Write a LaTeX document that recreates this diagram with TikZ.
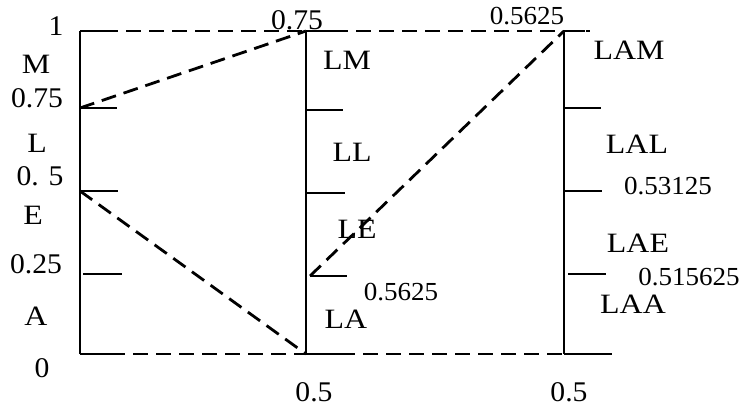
\documentclass[tikz,border=0pt]{standalone}
\usepackage{fontspec}
\setmainfont{Liberation Serif}
\newfontfamily\widefont[FakeStretch=1.14]{Liberation Serif}
\newfontfamily\numfont[FakeStretch=1.04]{Liberation Serif}
\begin{document}
\begin{tikzpicture}[x=1pt,y=-1pt,
  axisline/.style={line width=2.7pt},
  tickline/.style={line width=2.5pt},
  dashline/.style={line width=2.8pt,dash pattern=on 15pt off 8pt},
  big/.style={font=\widefont\fontsize{28}{28}\selectfont,inner sep=0pt,anchor=center},
  num/.style={font=\numfont\fontsize{26}{26}\selectfont,inner sep=0pt,anchor=center},
  numL/.style={font=\numfont\fontsize{28.5}{28.5}\selectfont,inner sep=0pt,anchor=center}]
\useasboundingbox (0,0) rectangle (742,409);
% left axis
\coordinate (L0) at (80,354);
\coordinate (L1) at (80,31);
\coordinate (L75) at (80,108);
\coordinate (L50) at (80,191);
\coordinate (L25) at (83,274);
% middle axis
\coordinate (M0) at (306,354);
\coordinate (M1) at (306,31);
\coordinate (M75) at (306,110);
\coordinate (M50) at (306,193);
\coordinate (M25) at (310,276);
% right axis
\coordinate (R0) at (564,354);
\coordinate (R1) at (564,31);
\coordinate (R75) at (564,108);
\coordinate (R50) at (564,191);
\coordinate (R25) at (568,274);

\draw[axisline] (L0) -- (L1);
\draw[axisline] (M0) -- (M1);
\draw[axisline] (R0) -- (R1);

% ticks
\draw[tickline] (L1) -- ++(37,0);
\draw[tickline] (L75) -- ++(37,0);
\draw[tickline] (L50) -- ++(38,0);
\draw[tickline] (L25) -- ++(39,0);
\draw[tickline] (L0) -- ++(30,0);
\draw[tickline] (M1) -- ++(37,0);
\draw[tickline] (M75) -- ++(37,0);
\draw[tickline] (M50) -- ++(39,0);
\draw[tickline] (M25) -- ++(37,0);
\draw[tickline] (M0) -- ++(37,0);
\draw[tickline] (R1) -- ++(21,0);
\draw[tickline] (R75) -- ++(37,0);
\draw[tickline] (R50) -- ++(38,0);
\draw[tickline] (R25) -- ++(38,0);
\draw[tickline] (R0) -- ++(48,0);

% dashed connectors
\coordinate (topend) at (590,31);
\coordinate (botstart) at (110,354);
\coordinate (botend) at (612,354);
\draw[dashline] (L1) -- (topend);
\draw[dashline] (botstart) -- (botend);
\draw[dashline] (L75) -- (M1);
\draw[dashline] (L50) -- (M0);
\draw[dashline] (M25) -- (R1);

% left labels
\node[numL] (t1) at (56,26) {1};
\node[big] (tM) at (36,64) {M};
\node[numL] (t075) at (37,98) {0.75};
\node[big] (tL) at (37,143) {L};
\node[numL] (t05) at (40,176) {0. 5};
\node[big] (tE) at (33,215) {E};
\node[numL] (t025) at (36,264) {0.25};
\node[big] (tA) at (36,316) {A};
\node[numL] (t0) at (42,368) {0};
% middle labels
\node[numL] (m075) at (297,20) {0.75};
\node[big] (mLM) at (347,60) {LM};
\node[big] (mLL) at (352,152) {LL};
\node[big] (mLE) at (357,229) {LE};
\node[num] (m5625) at (401,292) {0.5625};
\node[big] (mLA) at (346,319) {LA};
\node[numL] (m05) at (314,392) {0.5};
% right labels
\node[num] (r5625) at (527,16) {0.5625};
\node[big] (rLAM) at (629,50) {LAM};
\node[big] (rLAL) at (637,144) {LAL};
\node[num] (r53125) at (668,186) {0.53125};
\node[big] (rLAE) at (638,243) {LAE};
\node[num] (r515625) at (689,277) {0.515625};
\node[big] (rLAA) at (633,304) {LAA};
\node[numL] (r05) at (569,392) {0.5};
\end{tikzpicture}
\end{document}
